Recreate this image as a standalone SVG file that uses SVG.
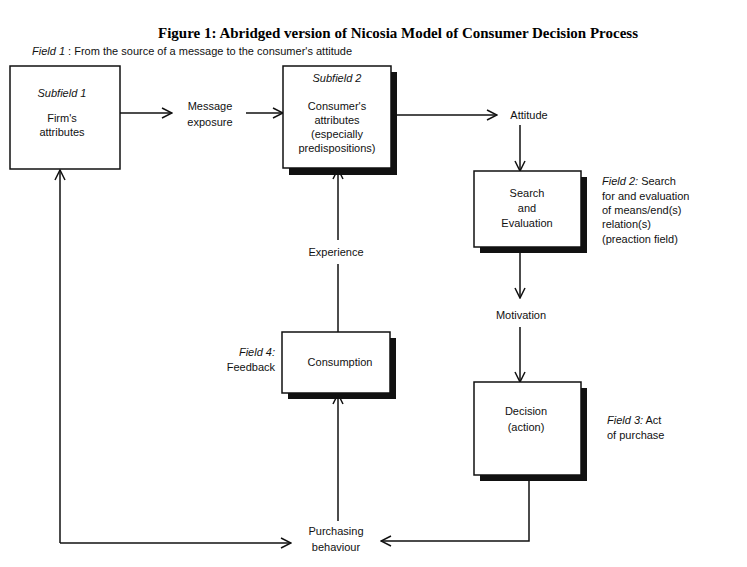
<svg xmlns="http://www.w3.org/2000/svg" width="747" height="567" viewBox="0 0 747 567">
<style>
.t{font-family:"Liberation Sans",Arial,sans-serif;font-size:11px;fill:#111}
.c{text-anchor:middle}
.i{font-style:italic}
.box{fill:#fff;stroke:#111;stroke-width:1.5}
.sh{fill:#111}
.ln{fill:none;stroke:#111;stroke-width:1.5}
</style>
<defs>
<marker id="a" viewBox="0 0 12 12" refX="11" refY="6" markerWidth="12" markerHeight="12" markerUnits="userSpaceOnUse" orient="auto">
<path d="M1,1 L11,6 L1,11" fill="none" stroke="#111" stroke-width="1.5"/>
</marker>
</defs>
<rect width="747" height="567" fill="#fff"/>
<text x="398" y="38" text-anchor="middle" font-family="'Liberation Serif',serif" font-weight="bold" font-size="15">Figure 1: Abridged version of Nicosia Model of Consumer Decision Process</text>
<text x="32" y="55" class="t"><tspan class="i">Field 1</tspan> : From the source of a message to the consumer's attitude</text>
<g id="connectors">
<path class="ln" d="M120,113 H172" marker-end="url(#a)"/>
<path class="ln" d="M246,113 H283" marker-end="url(#a)"/>
<path class="ln" d="M391,115 H497" marker-end="url(#a)"/>
<path class="ln" d="M520,125 V171" marker-end="url(#a)"/>
<path class="ln" d="M520,253 V298" marker-end="url(#a)"/>
<path class="ln" d="M520,327 V382" marker-end="url(#a)"/>
<path class="ln" d="M529,476 V541 H381" marker-end="url(#a)"/>
<path class="ln" d="M60,543 H291" marker-end="url(#a)"/>
<path class="ln" d="M60,543 V170" marker-end="url(#a)"/>
<path class="ln" d="M338,521 V394" marker-end="url(#a)"/>
<path class="ln" d="M338,332 V264"/>
<path class="ln" d="M338,240 V169" marker-end="url(#a)"/>
</g>
<g id="n1"><rect class="box" x="10" y="66" width="110" height="103"/>
<text x="62" y="97" class="t c i">Subfield 1</text><text x="62" y="122" class="t c">Firm's</text><text x="62" y="136" class="t c">attributes</text></g>
<g id="n2"><rect class="sh" x="289" y="72" width="108" height="103"/><rect class="box" x="283" y="66" width="108" height="102"/>
<text x="337" y="82" class="t c i">Subfield 2</text><text x="337" y="110" class="t c">Consumer's</text><text x="337" y="124" class="t c">attributes</text><text x="337" y="138" class="t c">(especially</text><text x="337" y="152" class="t c">predispositions)</text></g>
<g id="msg"><text x="210" y="110" class="t c">Message</text><text x="210" y="126" class="t c">exposure</text></g>
<g id="att"><text x="529" y="119" class="t c">Attitude</text></g>
<g id="n3"><rect class="sh" x="480" y="177" width="107" height="76"/><rect class="box" x="474" y="171" width="107" height="76"/>
<text x="527" y="197" class="t c">Search</text><text x="527" y="212" class="t c">and</text><text x="527" y="227" class="t c">Evaluation</text></g>
<g id="f2"><text x="602" y="185" class="t"><tspan class="i">Field 2:</tspan> Search</text><text x="602" y="200" class="t">for and evaluation</text><text x="602" y="214" class="t">of means/end(s)</text><text x="602" y="228" class="t">relation(s)</text><text x="602" y="243" class="t">(preaction field)</text></g>
<g id="mot"><text x="521" y="319" class="t c">Motivation</text></g>
<g id="n4"><rect class="sh" x="480" y="388" width="107" height="93"/><rect class="box" x="474" y="382" width="107" height="93"/>
<text x="526" y="415" class="t c">Decision</text><text x="526" y="431" class="t c">(action)</text></g>
<g id="f3"><text x="607" y="424" class="t"><tspan class="i">Field 3:</tspan> Act</text><text x="607" y="439" class="t">of purchase</text></g>
<g id="pb"><text x="336" y="535" class="t c">Purchasing</text><text x="336" y="551" class="t c">behaviour</text></g>
<g id="n5"><rect class="sh" x="288" y="338" width="108" height="61"/><rect class="box" x="282" y="332" width="108" height="61"/>
<text x="340" y="366" class="t c">Consumption</text></g>
<g id="f4"><text x="275" y="356" class="t i" text-anchor="end">Field 4:</text><text x="275" y="371" class="t" text-anchor="end">Feedback</text></g>
<g id="exp"><text x="336" y="256" class="t c">Experience</text></g>
</svg>
